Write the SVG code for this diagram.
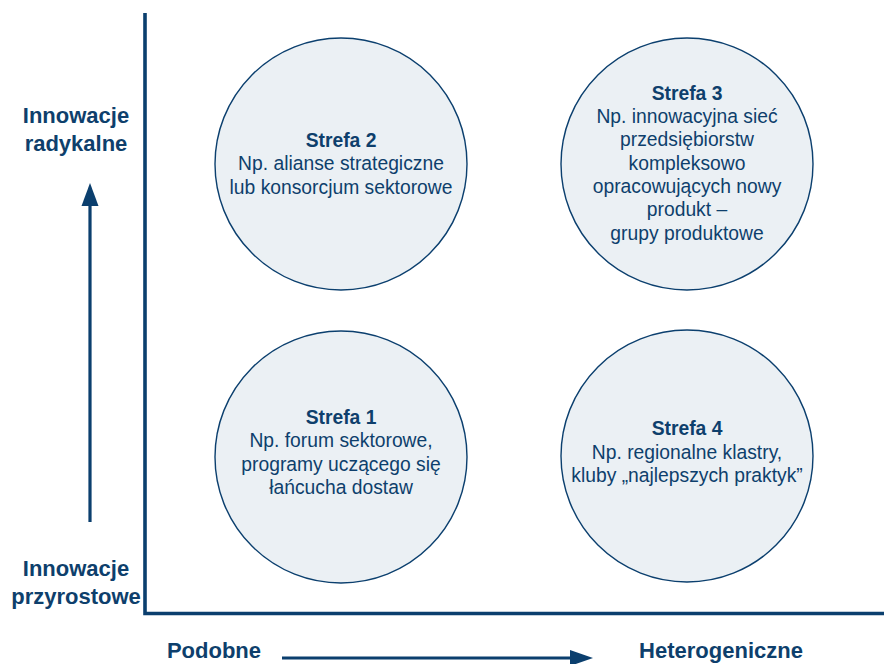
<svg xmlns="http://www.w3.org/2000/svg" width="884" height="664" viewBox="0 0 884 664">
  <defs>
    <style>
      .axis { stroke: #0b3f6e; stroke-width: 3.6; fill: none; }
      .arrow { stroke: #0b3f6e; stroke-width: 3.2; fill: none; }
      .head { fill: #0b3f6e; }
      .zone circle { fill: #ebf0f4; stroke: #0b3f6e; stroke-width: 1.4; }
      .zone text { font-family: "Liberation Sans", Arial, sans-serif; font-size: 19.3px; fill: #0e3f6c; text-anchor: middle; }
      .zone .title { font-weight: bold; }
      .label { font-family: "Liberation Sans", Arial, sans-serif; font-size: 22px; font-weight: bold; fill: #0e3f6c; text-anchor: middle; }
    </style>
  </defs>

  <rect width="884" height="664" fill="#ffffff"/>

  <!-- axes and direction arrows -->
  <g id="connectors">
    <polyline class="axis" points="145,13 145,613.5 884,613.5"/>
    <line class="arrow" x1="90" y1="522" x2="90" y2="202"/>
    <polygon class="head" points="90,183 81.5,206 98.5,206"/>
    <line class="arrow" x1="282" y1="658" x2="572" y2="658"/>
    <polygon class="head" points="593,658 570,650 570,666"/>
  </g>

  <!-- axis labels -->
  <g id="label-radical">
    <text class="label" x="76" y="123">Innowacje</text>
    <text class="label" x="76" y="151">radykalne</text>
  </g>
  <g id="label-incremental">
    <text class="label" x="76" y="576">Innowacje</text>
    <text class="label" x="76" y="604">przyrostowe</text>
  </g>
  <g id="label-similar">
    <text class="label" x="214" y="658">Podobne</text>
  </g>
  <g id="label-heterogeneous">
    <text class="label" x="721" y="658">Heterogeniczne</text>
  </g>

  <!-- zones -->
  <g id="zone2" class="zone">
    <circle cx="341" cy="164" r="126"/>
    <text class="title" x="341" y="147">Strefa 2</text>
    <text x="341" y="170">Np. alianse strategiczne</text>
    <text x="341" y="193.5">lub konsorcjum sektorowe</text>
  </g>

  <g id="zone3" class="zone">
    <circle cx="687" cy="164" r="126"/>
    <text class="title" x="687" y="100">Strefa 3</text>
    <text x="687" y="123">Np. innowacyjna sieć</text>
    <text x="687" y="146.3">przedsiębiorstw</text>
    <text x="687" y="169.6">kompleksowo</text>
    <text x="687" y="192.9">opracowujących nowy</text>
    <text x="687" y="216.2">produkt –</text>
    <text x="687" y="239.5">grupy produktowe</text>
  </g>

  <g id="zone1" class="zone">
    <circle cx="341" cy="457" r="126"/>
    <text class="title" x="341" y="424">Strefa 1</text>
    <text x="341" y="447">Np. forum sektorowe,</text>
    <text x="341" y="470.5">programy uczącego się</text>
    <text x="341" y="494">łańcucha dostaw</text>
  </g>

  <g id="zone4" class="zone">
    <circle cx="687" cy="456" r="126"/>
    <text class="title" x="687" y="435">Strefa 4</text>
    <text x="687" y="458.5">Np. regionalne klastry,</text>
    <text x="687" y="482">kluby „najlepszych praktyk”</text>
  </g>
</svg>
